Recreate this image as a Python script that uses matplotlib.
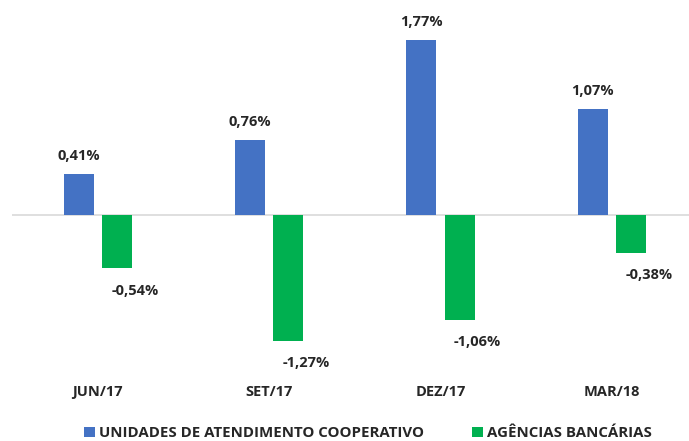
import numpy as np
import matplotlib.pyplot as plt

categorias = ['JUN/17', 'SET/17', 'DEZ/17', 'MAR/18']
unidades = [0.41, 0.76, 1.77, 1.07]
agencias = [-0.54, -1.27, -1.06, -0.38]
serie_nomes = ['UNIDADES DE ATENDIMENTO COOPERATIVO', 'AGÊNCIAS BANCÁRIAS']

azul = '#4472C4'
verde = '#00B050'

plt.rcParams['font.family'] = ['Open Sans', 'DejaVu Sans']

fig = plt.figure(figsize=(6.89, 4.41), dpi=100)
ax = fig.add_axes([12/689, (441-360)/441, 677/689, 340/441])

x = np.arange(len(categorias))
larg = 0.175
desl = 0.111

b1 = ax.bar(x - desl, unidades, larg, color=azul, label=serie_nomes[0])
b2 = ax.bar(x + desl, agencias, larg, color=verde, label=serie_nomes[1])

for xi, v in zip(x, unidades):
    ax.annotate(f'{v:.2f}%'.replace('.', ','), (xi - desl, v), xytext=(0, 8),
                textcoords='offset points', ha='center', va='bottom',
                fontsize=10.5, fontweight='bold', color='#262626')
for xi, v in zip(x, agencias):
    ax.annotate(f'{v:.2f}%'.replace('.', ','), (xi + desl, v), xytext=(13, -11),
                textcoords='offset points', ha='center', va='top',
                fontsize=10.5, fontweight='bold', color='#262626')

ax.axhline(0, color='#D9D9D9', linewidth=1.2, zorder=0)
ax.set_xlim(-0.5, 3.45)
ax.set_ylim(-1.465, 1.97)
ax.set_yticks([])
ax.set_xticks(x)
ax.set_xticklabels(categorias, fontsize=10.5, fontweight='bold', color='#262626')
ax.tick_params(axis='x', length=0, pad=18)
for s in ax.spines.values():
    s.set_visible(False)

fig.legend(handles=[b1, b2], loc='center', bbox_to_anchor=(368/689, 1 - 433/441),
           ncol=2, frameon=False, handlelength=0.7, handleheight=0.7,
           handletextpad=0.3, columnspacing=3.2,
           prop={'size': 10.8, 'weight': 'bold'}, labelcolor='#262626')

fig.savefig('out.png', dpi=100)
